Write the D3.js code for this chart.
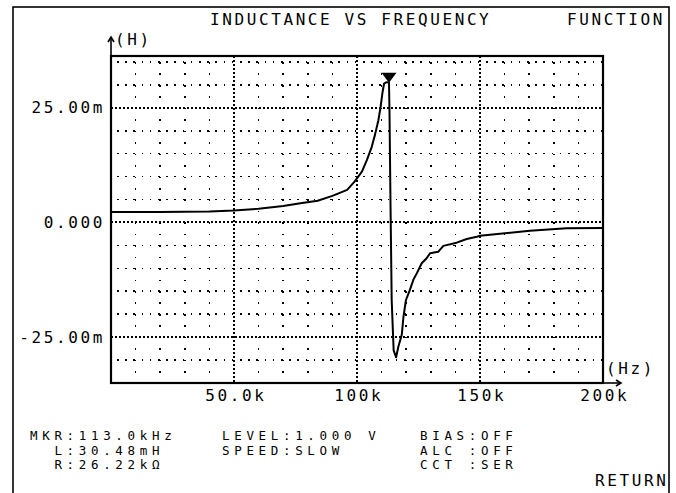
<!DOCTYPE html>
<html>
<head>
<meta charset="utf-8">
<script src="https://cdn.jsdelivr.net/npm/d3@7"></script>
<style>
  body { margin: 0; background: #fff; }
  svg text { font-family: "DejaVu Sans Mono", monospace; font-size: 16px; letter-spacing: 2.6px; fill: #000; }
  svg text.readout { font-size: 12.5px; letter-spacing: 4.67px; }
</style>
</head>
<body>
<script>
// data : inductance (mH) vs frequency (kHz)
var freq = [0, 20, 40, 50, 60, 70, 77, 84, 90, 96, 99, 102, 104, 106, 107.3, 108.7, 109.6, 110.3, 111, 112,
  113, 113.2, 113.6, 114.1, 114.9, 115.9, 116.8, 118.2, 118.9, 119.9, 121.5, 122.9, 124.3, 126.3, 128.3,
  129.7, 133, 135.1, 140.5, 144.6, 148.7, 150, 160.2, 170.3, 185.2, 200];
var induct = [2.29, 2.3, 2.4, 2.6, 3.0, 3.6, 4.2, 4.75, 5.8, 7.1, 8.9, 11.1, 13.6, 16.5, 19.1, 22.3, 25.2, 28.1, 30.3, 30.6,
  30.48, 24.6, 4.9, -16.9, -27.9, -29.4, -27.1, -24.5, -20.5, -16.9, -14.7, -12.5, -11.1, -8.9, -7.8,
  -6.7, -6.4, -5.1, -4.4, -3.6, -3.1, -2.9, -2.35, -1.8, -1.26, -1.2];

var xTicks = [50, 100, 150, 200];
var xTickLabels = ['50.0k', '100k', '150k', '200k'];
var yTicks = [25, 0, -25];
var yTickLabels = ['25.00m', '0.000', '-25.00m'];

var markerFreq = 113.0;
var markerL = 30.48;

var title = 'INDUCTANCE VS FREQUENCY';
var menuLabel = 'FUNCTION';
var col1 = ['MKR:113.0kHz', '  L:30.48mH', '  R:26.22k\u03a9'];
var col2 = ['LEVEL:1.000 V', 'SPEED:SLOW'];
var col3 = ['BIAS:OFF', 'ALC :OFF', 'CCT :SER'];
var softKey = 'RETURN';

var W = 676, H = 493;

var svg = d3.select('body')
  .append('svg')
    .attr('width', W)
    .attr('height', H);

// 스케일
var x = d3.scaleLinear().domain([0, 200]).range([111, 603]);
var y = d3.scaleLinear().domain([-35, 36.3]).range([383, 56]);

// outer screen frame
svg.append('rect')
  .attr('x', 13).attr('y', 7)
  .attr('width', 656).attr('height', 500)
  .attr('fill', 'none').attr('stroke', '#000').attr('stroke-width', 1.6);

// grid
var grid = svg.append('g').attr('stroke', '#000').attr('shape-rendering', 'crispEdges');
var xMinor = d3.range(10, 200, 10).filter(function(d) { return d % 50 !== 0; });
var xMajor = [50, 100, 150];
var yMinor = d3.range(-30, 36, 5).filter(function(d) { return d % 25 !== 0; });
var yMajor = [25, 0, -25];

grid.selectAll('.vmin').data(xMinor).enter().append('line')
  .attr('x1', x).attr('x2', x)
  .attr('y1', y.range()[1] + 6).attr('y2', y.range()[0])
  .attr('stroke-width', 1.6).attr('stroke-dasharray', '1.6,9.85');
grid.selectAll('.hmin').data(yMinor).enter().append('line')
  .attr('x1', x.range()[0] + 6).attr('x2', x.range()[1])
  .attr('y1', y).attr('y2', y)
  .attr('stroke-width', 1.6).attr('stroke-dasharray', '1.6,6.6');
grid.selectAll('.vmaj').data(xMajor).enter().append('line')
  .attr('x1', x).attr('x2', x)
  .attr('y1', y.range()[1]).attr('y2', y.range()[0])
  .attr('stroke-width', 2).attr('stroke-dasharray', '2,2');
grid.selectAll('.hmaj').data(yMajor).enter().append('line')
  .attr('x1', x.range()[0]).attr('x2', x.range()[1])
  .attr('y1', y).attr('y2', y)
  .attr('stroke-width', 2).attr('stroke-dasharray', '2,2');

// plot frame
svg.append('rect')
  .attr('x', x.range()[0]).attr('y', y.range()[1])
  .attr('width', x.range()[1] - x.range()[0])
  .attr('height', y.range()[0] - y.range()[1])
  .attr('fill', 'none').attr('stroke', '#000').attr('stroke-width', 2.2);

// axis arrows
var arrows = svg.append('g').attr('stroke', '#000').attr('fill', 'none').attr('stroke-width', 1.6);
arrows.append('line')
  .attr('x1', x.range()[0]).attr('x2', x.range()[0])
  .attr('y1', y.range()[1]).attr('y2', 38);
arrows.append('path')
  .attr('d', 'M' + (x.range()[0] - 3) + ',42L' + x.range()[0] + ',37L' + (x.range()[0] + 3) + ',42');
arrows.append('line')
  .attr('x1', x.range()[1]).attr('x2', 620)
  .attr('y1', y.range()[0]).attr('y2', y.range()[0]);
arrows.append('path')
  .attr('d', 'M616,' + (y.range()[0] - 3) + 'L621,' + y.range()[0] + 'L616,' + (y.range()[0] + 3));

// 축
svg.append('g')
  .attr('transform', 'translate(' + x.range()[0] + ',0)')
  .call(d3.axisLeft(y).tickValues(yTicks)
    .tickFormat(function(d, i) { return yTickLabels[i]; })
    .tickSize(0).tickPadding(6))
  .call(function(g) { g.select('.domain').remove(); });

svg.append('g')
  .attr('transform', 'translate(0,' + y.range()[0] + ')')
  .call(d3.axisBottom(x).tickValues(xTicks)
    .tickFormat(function(d, i) { return xTickLabels[i]; })
    .tickSize(0).tickPadding(7))
  .call(function(g) { g.select('.domain').remove(); })
  .selectAll('text').attr('dx', 1.3);

svg.append('text').attr('x', 115).attr('y', 45).text('(H)');
svg.append('text').attr('x', 606).attr('y', 374).text('(Hz)');

// curve
var line = d3.line()
  .x(function(d) { return x(d[0]); })
  .y(function(d) { return y(d[1]); });

svg.append('path')
  .datum(d3.zip(freq, induct))
  .attr('d', line)
  .attr('fill', 'none')
  .attr('stroke', '#000')
  .attr('stroke-width', 2)
  .attr('stroke-linejoin', 'round');

// marker
var mx = x(markerFreq), my = y(markerL);
svg.append('path')
  .attr('d', 'M' + (mx - 7.5) + ',' + (my - 10) + 'L' + (mx + 7.5) + ',' + (my - 10) + 'L' + mx + ',' + my + 'Z')
  .attr('fill', '#000');

// texts
svg.append('text').attr('x', 210).attr('y', 25).text(title);
svg.append('text').attr('x', 567).attr('y', 25).text(menuLabel);

// readout columns under the plot
function column(lines, x0) {
  svg.selectAll(null).data(lines).enter().append('text')
    .attr('class', 'readout')
    .attr('x', x0)
    .attr('y', function(d, i) { return 440 + i * 14.6; })
    .attr('xml:space', 'preserve')
    .style('white-space', 'pre')
    .text(function(d) { return d; });
}
column(col1, 30);
column(col2, 222);
column(col3, 420);
svg.append('text').attr('x', 595).attr('y', 486).text(softKey);
</script>
</body>
</html>
